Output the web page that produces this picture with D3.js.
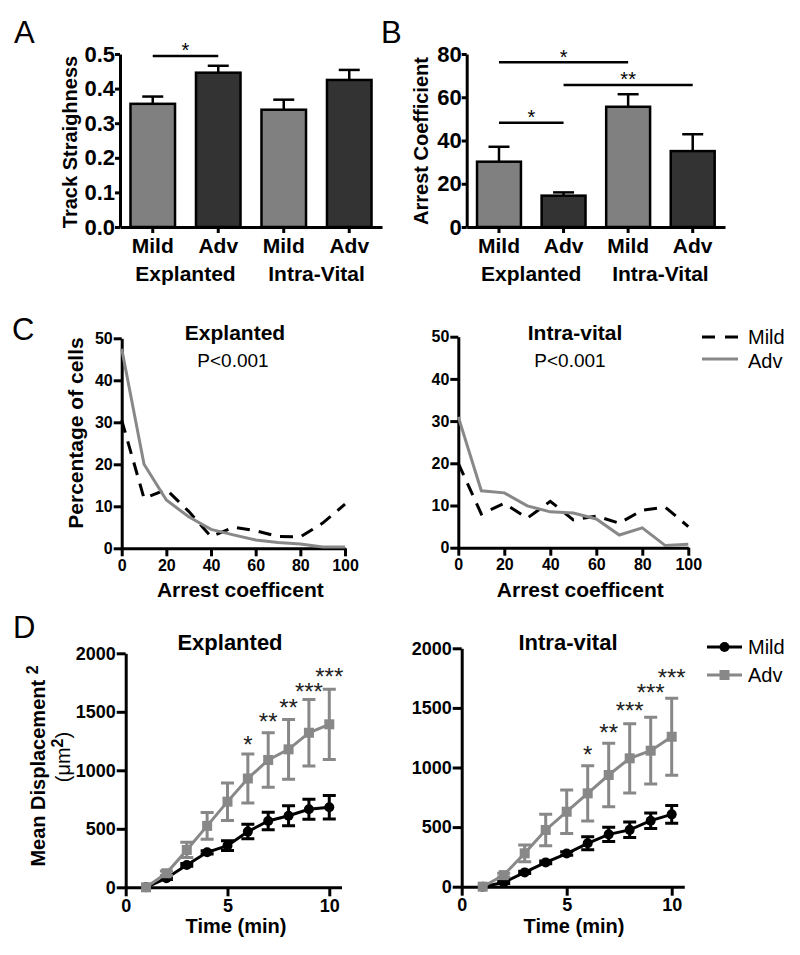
<!DOCTYPE html>
<html>
<head>
<meta charset="utf-8">
<script src="https://cdn.jsdelivr.net/npm/d3@7"></script>
<style>
  body { margin: 0; background: #fff; }
  svg { font-family: Arial, "Liberation Sans", sans-serif; }
</style>
</head>
<body>
<svg id="fig" width="800" height="955"></svg>
<script>
// ---- data ----
var groups = ["Mild", "Adv", "Mild", "Adv"];
var settings = ["Explanted", "Intra-Vital"];

// A: track straightness (mean, SEM)
var straightMean = [0.356, 0.446, 0.339, 0.425];
var straightErr = [0.021, 0.02, 0.029, 0.029];
var straightTicks = [0, 0.1, 0.2, 0.3, 0.4, 0.5];
var straightSig = [{ a: 0, b: 1, y: 0.494, label: "*" }];

// B: arrest coefficient
var arrestMean = [30.2, 14.5, 55.6, 35.1];
var arrestErr = [6.9, 1.5, 5.8, 7.8];
var arrestTicks = [0, 20, 40, 60, 80];
var arrestSig = [
  { a: 0, b: 2, y: 76.2, label: "*" },
  { a: 1, b: 3, y: 65.7, label: "**" },
  { a: 0, b: 1, y: 48.2, label: "*" }
];

// C: distribution of arrest coefficient (% of cells)
var arrestBins = [0, 10, 20, 30, 40, 50, 60, 70, 80, 90, 100];
var explMildPct = [30.5, 11.9, 14, 8.8, 2.8, 5, 4.2, 2.8, 2.7, 6, 10.5];
var explAdvPct = [47.5, 20, 11.5, 7.5, 4.5, 3.2, 2, 1.4, 1, 0.3, 0.3];
var ivMildPct = [20, 8, 10.5, 7, 11, 6.6, 7.5, 5.8, 8.9, 9.6, 5];
var ivAdvPct = [31, 13.5, 13, 9.9, 8.5, 8.2, 6.8, 3, 4.7, 0.5, 0.8];

// D: mean displacement^2 over time
var times = [1, 2, 3, 4, 5, 6, 7, 8, 9, 10];
var explMildMsd = [0, 77, 191, 299, 356, 476, 567, 612, 667, 684];
var explMildSem = [0, 10, 12, 14, 42, 62, 75, 85, 85, 100];
var explAdvMsd = [0, 120, 319, 525, 732, 930, 1088, 1179, 1321, 1393];
var explAdvSem = [0, 20, 65, 115, 160, 210, 233, 255, 285, 300];
var ivMildMsd = [0, 35, 120, 204, 278, 364, 439, 477, 554, 607];
var ivMildSem = [0, 8, 10, 12, 15, 55, 60, 65, 65, 75];
var ivAdvMsd = [0, 97, 280, 476, 629, 783, 937, 1077, 1141, 1258];
var ivAdvSem = [0, 15, 70, 132, 182, 232, 266, 290, 280, 322];
var explStars = ["", "", "", "", "", "*", "**", "**", "***", "***"];
var explStarY = [0, 0, 0, 0, 0, 1259, 1458, 1578, 1715, 1843];
var ivStars = ["", "", "", "", "", "*", "**", "***", "***", "***"];
var ivStarY = [0, 0, 0, 0, 0, 1147, 1331, 1516, 1667, 1795];

var mildFill = "#808080", advFill = "#333333", grayLine = "#888888";

var svg = d3.select("#fig");

function styleAxis(g, size) {
  g.attr("font-family", null).attr("font-size", null);
  g.selectAll("path, line").attr("stroke", "#000").attr("stroke-width", 3);
  g.selectAll("text").attr("font-weight", "bold").attr("fill", "#000")
    .style("font-size", size + "px");
}

function panelLetter(txt, x, y) {
  svg.append("text").attr("x", x).attr("y", y).attr("font-size", 31).text(txt);
}

function yTitle(txt, x, y, size) {
  svg.append("text")
    .attr("transform", "translate(" + x + "," + y + ") rotate(-90)")
    .attr("text-anchor", "middle").attr("font-size", size).attr("font-weight", "bold")
    .text(txt);
}

// ---- bar panels (A, B) ----
function barPanel(o) {
  var y = d3.scaleLinear().domain([0, o.max]).range([227, 54]);
  var x = d3.scaleBand().domain(d3.range(groups.length)).range(o.xr)
    .paddingInner(0.32).paddingOuter(0.16);
  var g = svg.append("g");

  // whiskers (upper only, bar hides the rest)
  o.means.forEach(function (m, i) {
    var cx = x(i) + x.bandwidth() / 2;
    g.append("line").attr("x1", cx).attr("x2", cx)
      .attr("y1", y(m)).attr("y2", y(m + o.errs[i]))
      .attr("stroke", "#000").attr("stroke-width", 2.5);
    g.append("line").attr("x1", cx - 10.5).attr("x2", cx + 10.5)
      .attr("y1", y(m + o.errs[i])).attr("y2", y(m + o.errs[i]))
      .attr("stroke", "#000").attr("stroke-width", 2.5);
  });

  g.selectAll("rect.bar").data(o.means).enter().append("rect")
    .attr("x", function (d, i) { return x(i); })
    .attr("y", function (d) { return y(d); })
    .attr("width", x.bandwidth())
    .attr("height", function (d) { return y(0) - y(d); })
    .attr("fill", function (d, i) { return i % 2 ? advFill : mildFill; })
    .attr("stroke", "#000").attr("stroke-width", 2.5);

  var ya = g.append("g").attr("transform", "translate(" + o.xr[0] + ",0)")
    .call(d3.axisLeft(y).tickValues(o.ticks).tickFormat(o.fmt)
      .tickSize(5).tickPadding(0).tickSizeOuter(0));
  styleAxis(ya, 22);

  var xa = g.append("g").attr("transform", "translate(0," + y(0) + ")")
    .call(d3.axisBottom(x).tickFormat(function (i) { return groups[i]; })
      .tickSize(6).tickPadding(5).tickSizeOuter(0));
  styleAxis(xa, 21);

  settings.forEach(function (s, k) {
    var cx = (x(2 * k) + x(2 * k + 1) + x.bandwidth()) / 2;
    g.append("text").attr("x", cx).attr("y", 281).attr("text-anchor", "middle")
      .attr("font-size", 21).attr("font-weight", "bold").text(s);
  });

  o.sig.forEach(function (s) {
    var xa1 = x(s.a) + x.bandwidth() / 2, xb = x(s.b) + x.bandwidth() / 2;
    g.append("line").attr("x1", xa1).attr("x2", xb)
      .attr("y1", y(s.y)).attr("y2", y(s.y))
      .attr("stroke", "#000").attr("stroke-width", 2.5);
    g.append("text").attr("x", (xa1 + xb) / 2).attr("y", y(s.y) - 10)
      .attr("dy", "0.57em").attr("text-anchor", "middle")
      .attr("font-size", 20).text(s.label);
  });
}

barPanel({ xr: [120, 382], max: 0.5, ticks: straightTicks, fmt: d3.format(".1f"),
  means: straightMean, errs: straightErr, sig: straightSig });
barPanel({ xr: [466.7, 725], max: 80, ticks: arrestTicks, fmt: d3.format("d"),
  means: arrestMean, errs: arrestErr, sig: arrestSig });

panelLetter("A", 14, 43);
panelLetter("B", 381, 43);
yTitle("Track Straighness", 77, 142, 20);
yTitle("Arrest Coefficient", 428, 141, 20);

// ---- frequency panels (C) ----
function freqPanel(o) {
  var x = d3.scaleLinear().domain([0, 100]).range(o.xr);
  var y = d3.scaleLinear().domain([0, 50]).range(o.yr);
  var g = svg.append("g");

  var ya = g.append("g").attr("transform", "translate(" + o.xr[0] + ",0)")
    .call(d3.axisLeft(y).tickValues([0, 10, 20, 30, 40, 50])
      .tickSize(8).tickPadding(1).tickSizeOuter(0));
  styleAxis(ya, 16);
  var xa = g.append("g").attr("transform", "translate(0," + o.yr[0] + ")")
    .call(d3.axisBottom(x).tickValues([0, 20, 40, 60, 80, 100])
      .tickSize(8).tickPadding(3).tickSizeOuter(0));
  styleAxis(xa, 16);

  var line = d3.line()
    .x(function (d, i) { return x(arrestBins[i]); })
    .y(function (d) { return y(d); });

  g.append("path").datum(o.mild).attr("d", line).attr("fill", "none")
    .attr("stroke", "#000").attr("stroke-width", 3).attr("stroke-dasharray", "13,9");
  g.append("path").datum(o.adv).attr("d", line).attr("fill", "none")
    .attr("stroke", grayLine).attr("stroke-width", 3);

  var mid = (o.xr[0] + o.xr[1]) / 2;
  g.append("text").attr("x", o.tx).attr("y", 340).attr("text-anchor", "middle")
    .attr("font-size", 21).attr("font-weight", "bold").text(o.title);
  g.append("text").attr("x", o.px).attr("y", 367).attr("text-anchor", "middle")
    .attr("font-size", 19).text("P<0.001");
  g.append("text").attr("x", mid + 7).attr("y", 597).attr("text-anchor", "middle")
    .attr("font-size", 21).attr("font-weight", "bold").text("Arrest coefficent");
}

freqPanel({ xr: [121.7, 345], yr: [548.3, 338.3], mild: explMildPct, adv: explAdvPct,
  title: "Explanted", tx: 235, px: 233 });
freqPanel({ xr: [458.3, 688.3], yr: [547.7, 336.7], mild: ivMildPct, adv: ivAdvPct,
  title: "Intra-vital", tx: 575, px: 570 });

panelLetter("C", 12, 340);
yTitle("Percentage of cells", 83, 433, 21);

// legend C
svg.append("line").attr("x1", 702).attr("x2", 738).attr("y1", 337).attr("y2", 337)
  .attr("stroke", "#000").attr("stroke-width", 3).attr("stroke-dasharray", "13,10");
svg.append("text").attr("x", 748).attr("y", 344).attr("font-size", 20).text("Mild");
svg.append("line").attr("x1", 702).attr("x2", 738).attr("y1", 359).attr("y2", 359)
  .attr("stroke", grayLine).attr("stroke-width", 3);
svg.append("text").attr("x", 748).attr("y", 368).attr("font-size", 20).text("Adv");

// ---- MSD panels (D) ----
function msdPanel(o) {
  var x = d3.scaleLinear().domain([0, 10.6]).range(o.xr);
  var y = d3.scaleLinear().domain([0, 2000]).range(o.yr);
  var g = svg.append("g");

  var ya = g.append("g").attr("transform", "translate(" + o.xr[0] + ",0)")
    .call(d3.axisLeft(y).tickValues([0, 500, 1000, 1500, 2000]).tickFormat(d3.format("d"))
      .tickSize(9).tickPadding(1).tickSizeOuter(0));
  styleAxis(ya, 18);
  var xa = g.append("g").attr("transform", "translate(0," + o.yr[0] + ")")
    .call(d3.axisBottom(x).tickValues([0, 5, 10])
      .tickSize(9).tickPadding(3).tickSizeOuter(0));
  styleAxis(xa, 18);

  var line = d3.line()
    .x(function (d, i) { return x(times[i]); })
    .y(function (d) { return y(d); });

  function series(means, sems, colour, shape) {
    g.append("path").datum(means).attr("d", line).attr("fill", "none")
      .attr("stroke", colour).attr("stroke-width", 3);
    means.forEach(function (m, i) {
      if (!sems[i]) return;
      var cx = x(times[i]), t = y(m + sems[i]), b = y(m - sems[i]);
      g.append("path")
        .attr("d", "M" + cx + "," + t + "V" + b +
          "M" + (cx - 6.5) + "," + t + "H" + (cx + 6.5) +
          "M" + (cx - 6.5) + "," + b + "H" + (cx + 6.5))
        .attr("fill", "none").attr("stroke", colour).attr("stroke-width", 3);
    });
    means.forEach(function (m, i) {
      if (shape === "circle") {
        g.append("circle").attr("cx", x(times[i])).attr("cy", y(m)).attr("r", 5)
          .attr("fill", colour);
      } else {
        g.append("rect").attr("x", x(times[i]) - 5).attr("y", y(m) - 5)
          .attr("width", 10).attr("height", 10).attr("fill", colour);
      }
    });
  }
  series(o.mild, o.mildSem, "#000", "circle");
  series(o.adv, o.advSem, grayLine, "square");

  o.stars.forEach(function (s, i) {
    if (!s) return;
    g.append("text").attr("x", x(times[i])).attr("y", y(o.starY[i]))
      .attr("dy", "0.55em").attr("text-anchor", "middle").attr("font-size", 24)
      .attr("fill", "#222").text(s);
  });

  g.append("text").attr("x", o.tx).attr("y", 650).attr("text-anchor", "middle")
    .attr("font-size", 22).attr("font-weight", "bold").text(o.title);
  g.append("text").attr("x", o.tx + 6).attr("y", 933).attr("text-anchor", "middle")
    .attr("font-size", 20).attr("font-weight", "bold").text("Time (min)");
}

msdPanel({ xr: [125.7, 341.5], yr: [887.3, 653.3], mild: explMildMsd, mildSem: explMildSem,
  adv: explAdvMsd, advSem: explAdvSem, stars: explStars, starY: explStarY,
  title: "Explanted", tx: 230 });
msdPanel({ xr: [461.7, 684.3], yr: [886.7, 648.3], mild: ivMildMsd, mildSem: ivMildSem,
  adv: ivAdvMsd, advSem: ivAdvSem, stars: ivStars, starY: ivStarY,
  title: "Intra-vital", tx: 568 });

panelLetter("D", 13, 638);

// D y title with superscripts
var t1 = svg.append("text")
  .attr("transform", "translate(45,766) rotate(-90)")
  .attr("text-anchor", "middle").attr("font-size", 20).attr("font-weight", "bold");
t1.append("tspan").text("Mean Displacement ");
t1.append("tspan").attr("dy", -7).attr("font-size", 16).text("2");
var t2 = svg.append("text")
  .attr("transform", "translate(70,757) rotate(-90)")
  .attr("text-anchor", "middle").attr("font-size", 20);
t2.append("tspan").text("(\u03bcm");
t2.append("tspan").attr("dy", -7).attr("font-size", 16).attr("font-weight", "bold").text("2");
t2.append("tspan").attr("dy", 7).text(")");

// legend D
svg.append("line").attr("x1", 707).attr("x2", 742).attr("y1", 647).attr("y2", 647)
  .attr("stroke", "#000").attr("stroke-width", 3);
svg.append("circle").attr("cx", 724.5).attr("cy", 647).attr("r", 5).attr("fill", "#000");
svg.append("text").attr("x", 748).attr("y", 654).attr("font-size", 20).text("Mild");
svg.append("line").attr("x1", 707).attr("x2", 742).attr("y1", 675).attr("y2", 675)
  .attr("stroke", grayLine).attr("stroke-width", 3);
svg.append("rect").attr("x", 719.5).attr("y", 670).attr("width", 10).attr("height", 10)
  .attr("fill", grayLine);
svg.append("text").attr("x", 748).attr("y", 682).attr("font-size", 20).text("Adv");
</script>
</body>
</html>
